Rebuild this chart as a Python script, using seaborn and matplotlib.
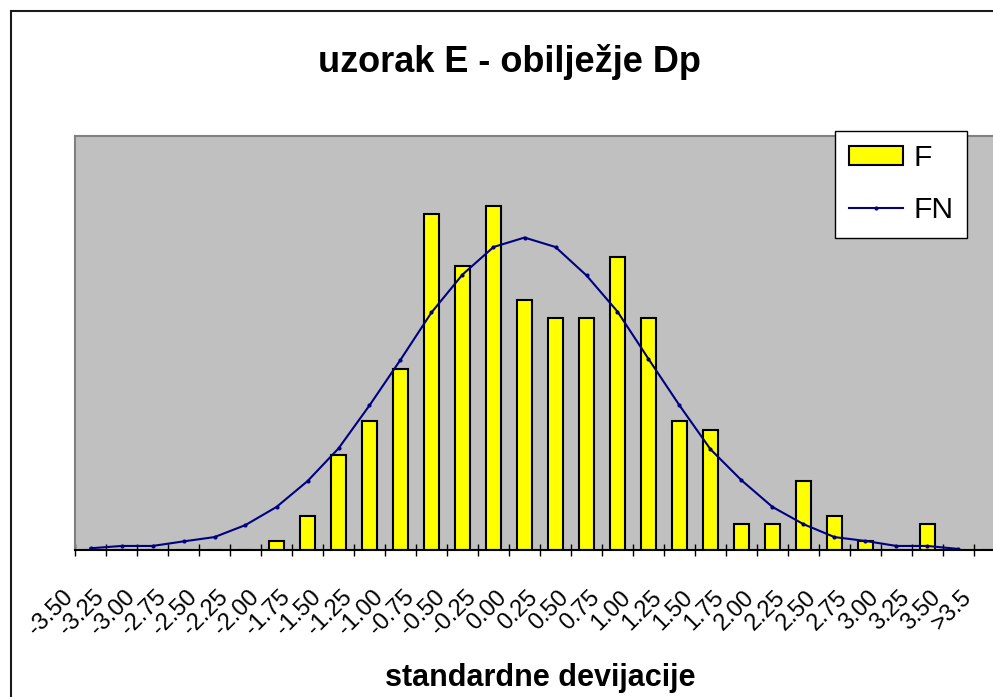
import matplotlib
matplotlib.use("Agg")
import matplotlib.pyplot as plt
import matplotlib.transforms as mtransforms
from matplotlib.patches import Patch, Rectangle
from matplotlib.lines import Line2D
import numpy as np
import pandas as pd
import seaborn as sns

# kategorije (standardne devijacije)
kategorije = ['-3.50', '-3.25', '-3.00', '-2.75', '-2.50', '-2.25', '-2.00', '-1.75',
              '-1.50', '-1.25', '-1.00', '-0.75', '-0.50', '-0.25', '0.00', '0.25',
              '0.50', '0.75', '1.00', '1.25', '1.50', '1.75', '2.00', '2.25',
              '2.50', '2.75', '3.00', '3.25', '3.50', '>3.5']
# F - empirijske frekvencije
F = [0, 0, 0, 0, 0, 0, 1, 4, 11, 15, 21, 39, 33, 40, 29, 27,
     27, 34, 27, 15, 14, 3, 3, 8, 4, 1, 0, 3, 0, 0]
# FN - normalna raspodjela
FN = [0.2, 0.47, 0.47, 1.0, 1.5, 2.9, 5.0, 8.0, 11.8, 16.8, 22.1, 27.6, 32.0, 35.2, 36.3,
      35.2, 31.9, 27.7, 22.2, 16.8, 11.7, 8.1, 5.0, 3.0, 1.5, 1.05, 0.47, 0.47, 0.12, np.nan]

df = pd.DataFrame({'kat': kategorije, 'F': F, 'FN': FN})
df['poz'] = np.arange(len(df))

plt.rcParams['font.family'] = ['Liberation Sans', 'DejaVu Sans']

fig = plt.figure(figsize=(9.93, 6.97), dpi=100)
ax = fig.add_axes([75 / 993, 1 - 550 / 697, 930 / 993, 414 / 697])
ax.set_facecolor('#C0C0C0')

sns.barplot(data=df, x='kat', y='F', order=kategorije, color='#FFFF00',
            saturation=1, edgecolor='black', linewidth=1.5, width=0.5, ax=ax)
sns.lineplot(data=df, x='poz', y='FN', color='#000080', linewidth=1.5,
             marker='o', markersize=3, markeredgewidth=0, ax=ax)

ax.set_xlim(-0.5, len(kategorije) - 0.5)
ax.set_ylim(0, 48.1)
ax.set_yticks([])
ax.set_ylabel('')

for s in ['left', 'top']:
    ax.spines[s].set_color('#808080')
    ax.spines[s].set_linewidth(1.5)
ax.spines['right'].set_visible(False)
ax.spines['bottom'].set_color('black')
ax.spines['bottom'].set_linewidth(1.5)

ax.set_xticks(np.arange(len(kategorije)))
ax.set_xticklabels(kategorije, rotation=45, ha='right', va='top',
                   rotation_mode='anchor', fontsize=17)
ax.set_xticks(np.arange(-0.5, len(kategorije)), minor=True)
ax.tick_params(axis='x', which='major', length=0, pad=26)
ax.tick_params(axis='x', which='minor', direction='inout', length=8, width=1, color='black')
pomak = mtransforms.ScaledTranslation(-29 / 100, 0, fig.dpi_scale_trans)
for lbl in ax.get_xticklabels():
    lbl.set_transform(lbl.get_transform() + pomak)

ax.set_xlabel('standardne devijacije', fontsize=22, fontweight='bold')
ax.xaxis.set_label_coords(0.5, -0.272)

fig.text(509 / 993, 1 - 72 / 697, 'uzorak E - obilježje Dp', ha='center',
         va='baseline', fontsize=26, fontweight='bold')

ruke = [Patch(facecolor='#FFFF00', edgecolor='black', linewidth=1.5, label='F'),
        Line2D([0], [0], color='#000080', linewidth=1.5, marker='o', markersize=3,
               markeredgewidth=0, label='FN')]
leg = ax.legend(handles=ruke, loc='upper left', bbox_to_anchor=(835 / 993, 1 - 131 / 697),
                bbox_transform=fig.transFigure, fontsize=21.6, frameon=True,
                fancybox=False, framealpha=1, edgecolor='black', borderpad=0.45,
                handlelength=1.8, handleheight=0.6, handletextpad=0.35,
                labelspacing=0.8, borderaxespad=0)
leg.get_frame().set_linewidth(1)

fig.patches.append(Rectangle((10.5 / 993, -0.5), 2, 0.5 + 1 - 10.5 / 697,
                             transform=fig.transFigure, fill=False,
                             edgecolor='#1a1a1a', linewidth=1.5, clip_on=False))

fig.savefig('out.png', dpi=100)
